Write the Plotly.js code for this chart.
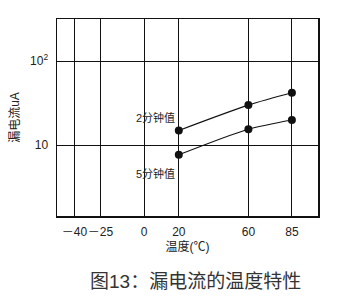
<!DOCTYPE html>
<html><head><meta charset="utf-8">
<script src="https://cdn.plot.ly/plotly-3.0.1.min.js"></script>
<style>html,body{margin:0;padding:0;background:#fff;}#chart{width:338px;height:303px;}</style>
</head><body><div id="chart"></div>
<script>
const temps = [20, 60, 85];
const leak2min = [15, 30, 42];
const leak5min = [7.7, 15.5, 20];
const xTickVals = [-40, -25, 0, 20, 60, 85];
const xTickText = ['－40', '－25', '0', '20', '60', '85'];
const yTickVals = [10, 100];
const yTickText = ['10', '10<sup>2</sup>'];
const label2 = '2分钟值';
const label5 = '5分钟值';
const yTitle = '漏电流uA';
const xTitle = '温度(℃)';
const caption = '图13：漏电流的温度特性';

const FONT = 'Liberation Sans, Arial, Noto Sans CJK SC, sans-serif';
const mk = {color: '#111', size: 8};
const ln = {color: '#111', width: 1.1, shape: 'spline', smoothing: 0.8};
const traces = [
  {x: temps, y: leak2min, mode: 'lines+markers', marker: mk, line: ln, hoverinfo: 'skip'},
  {x: temps, y: leak5min, mode: 'lines+markers', marker: mk, line: ln, hoverinfo: 'skip'}
];
const layout = {
  width: 338, height: 303,
  margin: {l: 57, r: 20, t: 19, b: 87},
  paper_bgcolor: '#fff', plot_bgcolor: '#fff',
  showlegend: false,
  font: {family: FONT, color: '#222', size: 12},
  xaxis: {
    range: [-50, 100], tickvals: xTickVals, ticktext: xTickText, tickangle: 0,
    showgrid: true, gridcolor: '#111', gridwidth: 1,
    zeroline: false, showline: true, linecolor: '#111', linewidth: 1.5, mirror: true,
    ticks: '', ticklabelstandoff: 4, tickfont: {size: 12, color: '#222'},
    title: {text: xTitle, font: {size: 12, color: '#222'}, standoff: 4}
  },
  yaxis: {
    type: 'log', range: [0.16, 2.5], tickvals: yTickVals, ticktext: yTickText,
    showgrid: true, gridcolor: '#111', gridwidth: 1,
    zeroline: false, showline: true, linecolor: '#111', linewidth: 1.5, mirror: true,
    ticks: '', ticklabelstandoff: 5, tickfont: {size: 12, color: '#222'},
    title: {text: yTitle, font: {size: 12, color: '#222'}, standoff: 8}
  },
  annotations: [
    {x: temps[0], y: Math.log10(leak2min[0]), xref: 'x', yref: 'y', text: label2, showarrow: false,
     xanchor: 'right', yanchor: 'middle', xshift: -2, yshift: 13, font: {size: 11, color: '#222'}},
    {x: temps[0], y: Math.log10(leak5min[0]), xref: 'x', yref: 'y', text: label5, showarrow: false,
     xanchor: 'right', yanchor: 'middle', xshift: -2, yshift: -19, font: {size: 11, color: '#222'}},
    {x: 0.53, y: 0, xref: 'paper', yref: 'paper', text: caption, showarrow: false,
     xanchor: 'center', yanchor: 'middle', yshift: -65, font: {size: 19, color: '#333'}}
  ]
};
Plotly.newPlot('chart', traces, layout, {staticPlot: true, displayModeBar: false});
</script></body></html>
